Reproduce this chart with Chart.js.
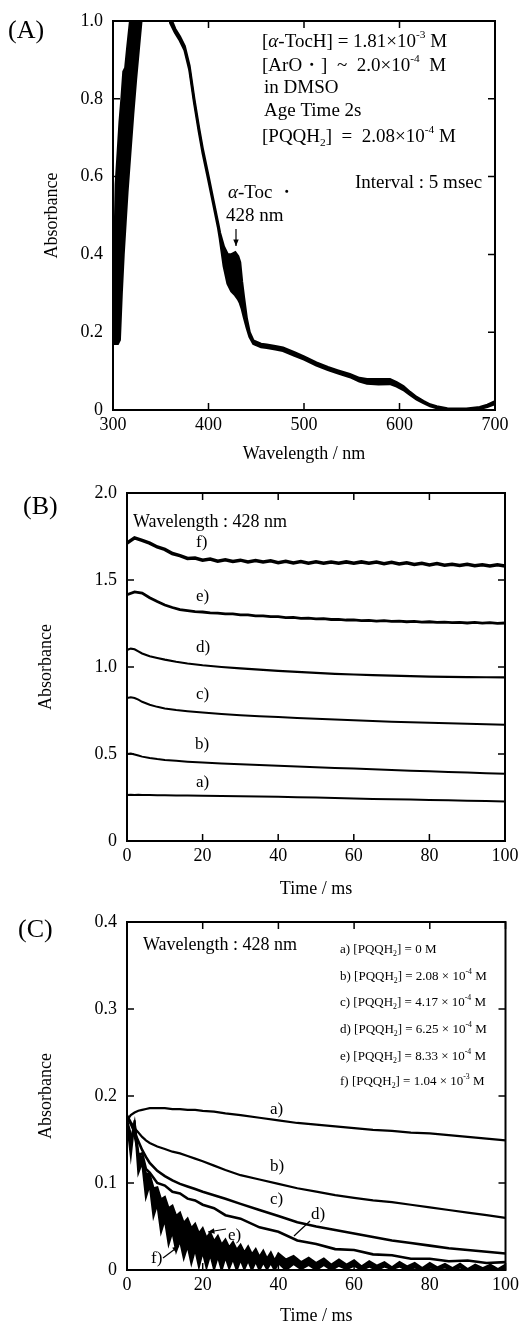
<!DOCTYPE html>
<html>
<head>
<meta charset="utf-8">
<script src="https://cdn.jsdelivr.net/npm/chart.js@4.4.0/dist/chart.umd.min.js"></script>
<style>
  body { margin: 0; background: #fff; }
  #wrap { position: relative; width: 523px; height: 1327px; }
  canvas { position: absolute; left: 0; }
</style>
</head>
<body>
<div id="wrap">
  <canvas id="chartA" width="523" height="465" style="top:0px"></canvas>
  <canvas id="chartB" width="523" height="435" style="top:465px"></canvas>
  <canvas id="chartC" width="523" height="427" style="top:900px"></canvas>
</div>
<script>
// ---------- Panel A: spectra (a bundle, drawn as early / middle / late) ----------
const wavelengths = [301,302,303,305,307,309,311,313,315,318,
  321,324,327,330,334,345,355,360,365,370,
  375,380,385,390,394,400,405,410,412,416,
  420,424,428,431,433,435,437,440,443,447,
  455,461,470,478,490,500,513,525,535,548,
  558,566,578,590,597,604,611,618,625,632,
  639,650,660,670,684,692,700];
const specEarly = [0.17,0.45,0.58,0.66,0.74,0.80,0.87,0.88,0.93,1.00,
  1.10,1.20,1.30,1.40,1.50,1.60,1.30,1.01,0.98,0.96,
  0.935,0.885,0.80,0.725,0.67,0.60,0.54,0.48,0.455,0.42,
  0.40,0.40,0.405,0.395,0.38,0.33,0.29,0.235,0.20,0.178,
  0.17,0.168,0.164,0.16,0.148,0.137,0.122,0.11,0.102,0.092,
  0.082,0.079,0.079,0.079,0.071,0.061,0.046,0.033,0.023,0.014,
  0.009,0.004,0.003,0.003,0.007,0.013,0.022];
const specMid = [0.17,0.30,0.52,0.56,0.64,0.60,0.77,0.72,0.84,0.87,
  0.99,1.06,1.16,1.25,1.35,1.45,1.25,1.00,0.975,0.955,
  0.93,0.88,0.795,0.72,0.665,0.595,0.535,0.475,0.448,0.395,
  0.36,0.35,0.35,0.34,0.33,0.295,0.265,0.223,0.194,0.174,
  0.166,0.164,0.160,0.156,0.144,0.133,0.118,0.106,0.098,0.088,
  0.078,0.073,0.072,0.073,0.066,0.056,0.042,0.030,0.020,0.012,
  0.007,0.002,0.001,0.001,0.005,0.010,0.019];
const specLate = [0.17,0.17,0.17,0.17,0.18,0.30,0.40,0.48,0.56,0.66,
  0.76,0.85,0.93,1.01,1.10,1.30,1.20,0.995,0.97,0.95,
  0.925,0.875,0.79,0.715,0.66,0.59,0.53,0.47,0.44,0.37,
  0.325,0.305,0.295,0.285,0.275,0.26,0.24,0.212,0.188,0.17,
  0.162,0.16,0.156,0.152,0.14,0.13,0.115,0.103,0.095,0.085,
  0.074,0.068,0.066,0.067,0.061,0.052,0.039,0.027,0.018,0.010,
  0.005,0.001,0.0,0.0,0.003,0.008,0.016];
const xTicksA = [300, 400, 500, 600, 700];
const xLabelsA = ['300', '400', '500', '600', '700'];
const yTicksA = [0, 0.2, 0.4, 0.6, 0.8, 1.0];
const yLabelsA = ['0', '0.2', '0.4', '0.6', '0.8', '1.0'];

// ---------- Panel B: 428 nm traces, offset ----------
const timeB = [0,1,2,3,4,6,8,10,13,16,20,25,30,35,40,45,50,55,60,65,70,75,80,85,90,95,100];
const traceBa = [0.265,0.266,0.265,0.266,0.264,0.264,0.263,0.263,0.262,0.261,0.260,0.259,0.257,0.256,0.254,0.252,0.250,0.247,0.244,0.242,0.240,0.238,0.236,0.234,0.232,0.230,0.227];
const traceBb = [0.500,0.503,0.497,0.491,0.485,0.477,0.471,0.466,0.461,0.456,0.451,0.446,0.441,0.437,0.432,0.428,0.424,0.420,0.416,0.412,0.408,0.404,0.401,0.397,0.394,0.390,0.386];
const traceBc = [0.822,0.826,0.822,0.812,0.800,0.783,0.771,0.762,0.753,0.746,0.738,0.730,0.723,0.717,0.712,0.707,0.702,0.698,0.694,0.690,0.686,0.683,0.680,0.677,0.674,0.671,0.668];
const traceBd = [1.098,1.106,1.102,1.090,1.078,1.062,1.052,1.042,1.030,1.020,1.010,1.000,0.992,0.985,0.978,0.972,0.966,0.961,0.957,0.953,0.950,0.947,0.945,0.943,0.942,0.941,0.940];
const timeB2 = [0,2,4,6,8,10,12,14,16,18,20,22,24,26,28,30,32,34,36,38,40,42,44,46,48,50,
  52,54,56,58,60,62,64,66,68,70,72,74,76,78,80,82,84,86,88,90,92,94,96,98,100];
const traceBe = [1.415,1.432,1.425,1.398,1.376,1.356,1.342,1.330,1.324,1.318,1.316,1.311,1.310,1.305,1.305,1.300,1.299,1.294,1.294,1.289,1.289,1.284,1.285,1.280,1.281,1.277,
  1.278,1.273,1.274,1.270,1.271,1.267,1.268,1.264,1.266,1.262,1.264,1.260,1.262,1.258,1.260,1.256,1.258,1.255,1.257,1.253,1.256,1.252,1.255,1.251,1.253];
const traceBf = [1.712,1.742,1.728,1.712,1.690,1.676,1.652,1.640,1.624,1.626,1.614,1.620,1.608,1.616,1.606,1.614,1.604,1.612,1.603,1.610,1.600,1.608,1.598,1.606,1.597,1.605,
  1.597,1.604,1.596,1.604,1.596,1.604,1.596,1.603,1.594,1.602,1.592,1.599,1.589,1.596,1.587,1.594,1.585,1.591,1.583,1.590,1.582,1.588,1.580,1.587,1.580];
const xTicksB = [0, 20, 40, 60, 80, 100];
const xLabelsB = ['0', '20', '40', '60', '80', '100'];
const yTicksB = [0, 0.5, 1.0, 1.5, 2.0];
const yLabelsB = ['0', '0.5', '1.0', '1.5', '2.0'];

// ---------- Panel C: 428 nm decays vs [PQQH2] ----------
const timeC = [0,1,2,3,4,5,6,8,10,12,14,16,18,20,23,26,30,35,40,45,50,55,60,65,70,75,80,85,90,95,100];
const traceCa = [0.172,0.178,0.181,0.183,0.184,0.185,0.186,0.186,0.186,0.185,0.185,0.184,0.184,0.183,0.182,0.180,0.178,0.175,0.172,0.169,0.167,0.165,0.163,0.161,0.160,0.158,0.157,0.155,0.153,0.151,0.149];
const traceCb = [0.178,0.170,0.163,0.158,0.153,0.149,0.146,0.142,0.139,0.136,0.134,0.131,0.128,0.125,0.120,0.115,0.109,0.104,0.099,0.094,0.090,0.086,0.083,0.080,0.078,0.075,0.072,0.069,0.066,0.063,0.060];
const traceCc = [0.175,0.168,0.158,0.148,0.138,0.130,0.123,0.114,0.108,0.103,0.099,0.096,0.093,0.090,0.086,0.082,0.076,0.069,0.062,0.055,0.050,0.046,0.042,0.038,0.034,0.031,0.028,0.025,0.023,0.021,0.019];
const traceCd = [0.170,0.148,0.168,0.132,0.134,0.116,0.112,0.100,0.097,0.090,0.088,0.082,0.080,0.075,0.071,0.063,0.059,0.049,0.044,0.034,0.030,0.024,0.023,0.018,0.017,0.013,0.013,0.010,0.011,0.008,0.009];
const timeC2 = [0,1,2,3,4,5,6,7,8,9,10,11,12,13,14,15,16,17,18,19,20,21,22,23,24,25,26,27,28,29,30,31,32,33,34,35,36,37,38,39,40,
  42,44,46,48,50,52,54,56,58,60,62,64,66,68,70,72,74,76,78,80,82,84,86,88,90,92,94,96,98,100];
const traceCe = [0.172,0.156,0.154,0.134,0.129,0.111,0.110,0.094,0.095,0.081,0.084,0.071,0.074,0.062,0.066,0.054,0.059,0.048,0.053,0.042,0.048,0.037,0.043,0.033,0.039,0.029,0.035,0.026,0.032,0.023,0.029,0.020,0.027,0.018,0.024,0.015,0.022,0.013,0.020,0.011,0.019,
  0.012,0.016,0.009,0.014,0.008,0.013,0.006,0.012,0.006,0.011,0.004,0.010,0.005,0.009,0.003,0.009,0.004,0.008,0.002,0.008,0.003,0.007,0.002,0.007,0.001,0.006,0.002,0.006,0.001,0.006];
const traceCf = [0.170,0.132,0.172,0.112,0.124,0.084,0.098,0.062,0.076,0.044,0.058,0.030,0.044,0.022,0.034,0.014,0.028,0.008,0.024,0.004,0.021,0.003,0.018,0.001,0.016,0.000,0.015,0.002,0.013,0.000,0.012,0.001,0.011,0.000,0.010,0.000,0.009,0.001,0.008,0.000,0.008,
  0.000,0.007,0.001,0.006,0.000,0.006,0.000,0.005,0.001,0.005,0.000,0.004,0.000,0.004,0.001,0.004,0.000,0.003,0.000,0.003,0.001,0.003,0.000,0.003,0.000,0.002,0.001,0.002,0.000,0.002];
const xTicksC = [0, 20, 40, 60, 80, 100];
const xLabelsC = ['0', '20', '40', '60', '80', '100'];
const yTicksC = [0, 0.1, 0.2, 0.3, 0.4];
const yLabelsC = ['0', '0.1', '0.2', '0.3', '0.4'];

const SERIF = "'Liberation Serif', 'DejaVu Serif', serif";
const tickFont = { family: SERIF, size: 18 };
const titleFont = { family: SERIF, size: 18 };

function toPoints(xs, ys) {
  return xs.map((x, i) => ({ x: x, y: ys[i] }));
}

function line(xs, ys, width, extra) {
  return Object.assign({
    data: toPoints(xs, ys),
    borderColor: '#000',
    backgroundColor: '#000',
    borderWidth: width,
    pointRadius: 0,
    fill: false,
    tension: 0
  }, extra || {});
}

// text and arrows, in canvas pixels (layout only)
const notes = {
  chartA: [
    { x: 8, y: 31, size: 26, parts: ['(A)'] },
    { x: 262, y: 42, size: 19, parts: ['[', ['α', 'it'], '-TocH] = 1.81', '×', '10', ['-3', 'sup'], ' M'] },
    { x: 262, y: 66, size: 19, parts: ['[ArO・]  ~  2.0', '×', '10', ['-4', 'sup'], '  M'] },
    { x: 264, y: 88, size: 19, parts: ['in DMSO'] },
    { x: 264, y: 111, size: 19, parts: ['Age Time 2s'] },
    { x: 262, y: 137, size: 19, parts: ['[PQQH', ['2', 'sub'], ']  =  2.08', '×', '10', ['-4', 'sup'], ' M'] },
    { x: 355, y: 183, size: 19, parts: ['Interval : 5 msec'] },
    { x: 228, y: 193, size: 19, parts: [['α', 'it'], '-Toc ・'] },
    { x: 226, y: 216, size: 19, parts: ['428 nm'] },
    { arrow: [236, 229, 236, 246] }
  ],
  chartB: [
    { x: 23, y: 42, size: 26, parts: ['(B)'] },
    { x: 133, y: 57, size: 18, parts: ['Wavelength : 428 nm'] },
    { x: 196, y: 78, size: 17, parts: ['f)'] },
    { x: 196, y: 132, size: 17, parts: ['e)'] },
    { x: 196, y: 183, size: 17, parts: ['d)'] },
    { x: 196, y: 230, size: 17, parts: ['c)'] },
    { x: 195, y: 280, size: 17, parts: ['b)'] },
    { x: 196, y: 318, size: 17, parts: ['a)'] }
  ],
  chartC: [
    { x: 18, y: 30, size: 26, parts: ['(C)'] },
    { x: 143, y: 45, size: 18, parts: ['Wavelength : 428 nm'] },
    { x: 340, y: 50, size: 13, parts: ['a) [PQQH', ['2', 'sub'], '] = 0 M'] },
    { x: 340, y: 77, size: 13, parts: ['b) [PQQH', ['2', 'sub'], '] = 2.08', ' × ', '10', ['-4', 'sup'], ' M'] },
    { x: 340, y: 103, size: 13, parts: ['c) [PQQH', ['2', 'sub'], '] = 4.17', ' × ', '10', ['-4', 'sup'], ' M'] },
    { x: 340, y: 130, size: 13, parts: ['d) [PQQH', ['2', 'sub'], '] = 6.25', ' × ', '10', ['-4', 'sup'], ' M'] },
    { x: 340, y: 157, size: 13, parts: ['e) [PQQH', ['2', 'sub'], '] = 8.33', ' × ', '10', ['-4', 'sup'], ' M'] },
    { x: 340, y: 182, size: 13, parts: ['f) [PQQH', ['2', 'sub'], '] = 1.04', ' × ', '10', ['-3', 'sup'], ' M'] },
    { x: 270, y: 210, size: 17, parts: ['a)'] },
    { x: 270, y: 267, size: 17, parts: ['b)'] },
    { x: 270, y: 300, size: 17, parts: ['c)'] },
    { x: 311, y: 315, size: 17, parts: ['d)'] },
    { x: 228, y: 336, size: 17, parts: ['e)'] },
    { x: 151, y: 359, size: 17, parts: ['f)'] },
    { lead: [310, 321, 294, 336] },
    { arrow: [226, 329, 208, 332] },
    { arrow: [163, 358, 179, 346] }
  ]
};

function drawParts(ctx, x, y, parts, size) {
  let cx = x;
  parts.forEach(p => {
    const txt = typeof p === 'string' ? p : p[0];
    const mode = typeof p === 'string' ? '' : p[1];
    let fs = size, dy = 0, style = '';
    if (mode === 'sup') { fs = size * 0.6; dy = -size * 0.36; }
    if (mode === 'sub') { fs = size * 0.6; dy = size * 0.3; }
    if (mode === 'it') style = 'italic ';
    ctx.font = style + fs + 'px ' + SERIF;
    ctx.fillText(txt, cx, y + dy);
    cx += ctx.measureText(txt).width;
  });
}

function drawArrow(ctx, x1, y1, x2, y2, head) {
  ctx.beginPath();
  ctx.moveTo(x1, y1);
  ctx.lineTo(x2, y2);
  ctx.stroke();
  if (!head) return;
  const ang = Math.atan2(y2 - y1, x2 - x1);
  ctx.beginPath();
  ctx.moveTo(x2, y2);
  ctx.lineTo(x2 - 7 * Math.cos(ang - 0.4), y2 - 7 * Math.sin(ang - 0.4));
  ctx.lineTo(x2 - 7 * Math.cos(ang + 0.4), y2 - 7 * Math.sin(ang + 0.4));
  ctx.closePath();
  ctx.fill();
}

// inward ticks on all four sides plus the box
const frameTicks = {
  id: 'frameTicks',
  afterDatasetsDraw(chart) {
    const { ctx, chartArea: a, scales } = chart;
    const x = scales.x, y = scales.y;
    ctx.save();
    ctx.strokeStyle = '#000';
    ctx.lineWidth = 1.5;
    ctx.beginPath();
    x.ticks.forEach(t => {
      const px = x.getPixelForValue(t.value);
      ctx.moveTo(px, a.bottom); ctx.lineTo(px, a.bottom - 7);
      ctx.moveTo(px, a.top); ctx.lineTo(px, a.top + 7);
    });
    y.ticks.forEach(t => {
      const py = y.getPixelForValue(t.value);
      ctx.moveTo(a.left, py); ctx.lineTo(a.left + 7, py);
      ctx.moveTo(a.right, py); ctx.lineTo(a.right - 7, py);
    });
    ctx.stroke();
    ctx.lineWidth = 2;
    ctx.strokeRect(a.left, a.top, a.right - a.left, a.bottom - a.top);
    ctx.restore();
  }
};

const notesPlugin = {
  id: 'notesPlugin',
  afterDraw(chart) {
    const ctx = chart.ctx;
    ctx.save();
    ctx.fillStyle = '#000';
    ctx.strokeStyle = '#000';
    ctx.lineWidth = 1.2;
    ctx.textBaseline = 'middle';
    ctx.textAlign = 'left';
    (notes[chart.canvas.id] || []).forEach(n => {
      if (n.arrow) drawArrow(ctx, n.arrow[0], n.arrow[1], n.arrow[2], n.arrow[3], true);
      else if (n.lead) drawArrow(ctx, n.lead[0], n.lead[1], n.lead[2], n.lead[3], false);
      else drawParts(ctx, n.x, n.y, n.parts, n.size);
    });
    ctx.restore();
  }
};

function makePanel(id, cfg) {
  return new Chart(document.getElementById(id), {
    type: 'line',
    data: { datasets: cfg.datasets },
    options: {
      responsive: false,
      animation: false,
      layout: { padding: { left: 0, right: cfg.padRight, top: cfg.padTop, bottom: 0 } },
      plugins: { legend: { display: false }, tooltip: { enabled: false } },
      scales: {
        x: {
          type: 'linear',
          min: cfg.xTicks[0],
          max: cfg.xTicks[cfg.xTicks.length - 1],
          afterBuildTicks: s => { s.ticks = cfg.xTicks.map(v => ({ value: v })); },
          afterFit: s => { s.height = cfg.xHeight; },
          grid: { display: false, drawTicks: false },
          border: { display: false },
          ticks: {
            color: '#000', font: tickFont, padding: 4, maxRotation: 0, autoSkip: false,
            callback: (v, i) => cfg.xLabels[i]
          },
          title: { display: true, text: cfg.xTitle, color: '#000', font: titleFont, padding: { top: 0, bottom: 0 } }
        },
        y: {
          type: 'linear',
          min: cfg.yTicks[0],
          max: cfg.yTicks[cfg.yTicks.length - 1],
          afterBuildTicks: s => { s.ticks = cfg.yTicks.map(v => ({ value: v })); },
          afterFit: s => { s.width = cfg.yWidth; },
          grid: { display: false, drawTicks: false },
          border: { display: false },
          ticks: {
            color: '#000', font: tickFont, padding: 10, autoSkip: false,
            callback: (v, i) => cfg.yLabels[i]
          },
          title: { display: true, text: 'Absorbance', color: '#000', font: titleFont, padding: { top: cfg.yTitlePad, bottom: 0 } }
        }
      }
    },
    plugins: [frameTicks, notesPlugin]
  });
}

makePanel('chartA', {
  padTop: 21, padRight: 28, yWidth: 113, xHeight: 55, yTitlePad: 41,
  xTicks: xTicksA, xLabels: xLabelsA, yTicks: yTicksA, yLabels: yLabelsA,
  xTitle: 'Wavelength / nm',
  datasets: [
    line(wavelengths, specEarly, 2.5, { fill: 2 }),
    line(wavelengths, specMid, 1.5),
    line(wavelengths, specLate, 2.5)
  ]
});

makePanel('chartB', {
  padTop: 28, padRight: 18, yWidth: 127, xHeight: 59, yTitlePad: 35,
  xTicks: xTicksB, xLabels: xLabelsB, yTicks: yTicksB, yLabels: yLabelsB,
  xTitle: 'Time / ms',
  datasets: [
    line(timeB, traceBa, 2),
    line(timeB, traceBb, 2),
    line(timeB, traceBc, 2),
    line(timeB, traceBd, 2.2),
    line(timeB2, traceBe, 2.8),
    line(timeB2, traceBf, 3.5)
  ]
});

makePanel('chartC', {
  padTop: 22, padRight: 16, yWidth: 127, xHeight: 57, yTitlePad: 35,
  xTicks: xTicksC, xLabels: xLabelsC, yTicks: yTicksC, yLabels: yLabelsC,
  xTitle: 'Time / ms',
  datasets: [
    line(timeC, traceCa, 2.2),
    line(timeC, traceCb, 2.2),
    line(timeC, traceCc, 2.6),
    line(timeC, traceCd, 2.6),
    line(timeC2, traceCe, 2.2),
    line(timeC2, traceCf, 2.2, { fill: '-1' })
  ]
});
</script>
</body>
</html>
